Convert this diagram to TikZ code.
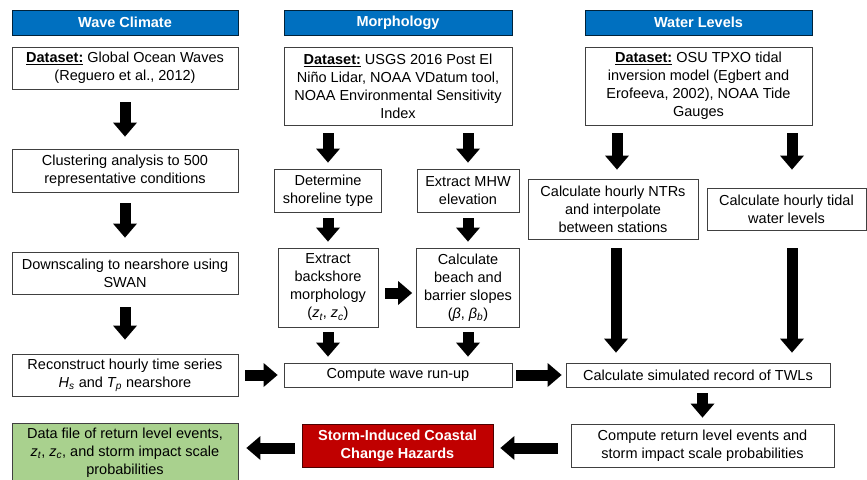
\documentclass[tikz,border=0pt]{standalone}
\usepackage{fontspec}
\setmainfont{Liberation Sans}
\usetikzlibrary{arrows.meta}
\definecolor{hdrblue}{HTML}{0070C0}
\definecolor{hazred}{HTML}{C00000}
\definecolor{outgreen}{HTML}{A9D18E}
\tikzset{>=stealth,
  box/.style={draw=black!75, line width=0.8pt, fill=white, align=center,
    inner sep=0pt, font=\fontsize{14.5}{18}\selectfont},
  hdr/.style={box, draw=black!70!hdrblue, fill=hdrblue, text=white,
    font=\fontsize{14.5}{18}\selectfont\bfseries},
  blk/.style={line width=11pt,
    -{Triangle[width=24pt,length=14pt,line width=0pt]}}}

\begin{document}
\begin{tikzpicture}[x=1pt, y=-1pt]
    \useasboundingbox (0,0) rectangle (867,479);
    % headers
    \node[hdr, minimum width=226pt, minimum height=25pt] (hW) at (125,22.5) {Wave Climate};
    \node[hdr, minimum width=228pt, minimum height=25pt] (hM) at (398,22.5) {Morphology};
    \node[hdr, minimum width=227pt, minimum height=25pt] (hL) at (698.5,22.5) {Water Levels};
    % datasets
    \node[box, minimum width=226pt, minimum height=42pt] (dW) at (125,68)
        {\underline{\textbf{Dataset:}} Global Ocean Waves\\(Reguero et al., 2012)};
    \node[box, minimum width=228pt, minimum height=78pt] (dM) at (398,86)
        {\underline{\textbf{Dataset:}} USGS 2016 Post El\\Niño Lidar, NOAA VDatum tool,\\NOAA Environmental Sensitivity\\Index};
    \node[box, minimum width=227pt, minimum height=78pt] (dL) at (698.5,86)
        {\underline{\textbf{Dataset:}} OSU TPXO tidal\\inversion model (Egbert and\\Erofeeva, 2002), NOAA Tide\\Gauges};
    % wave climate column
    \node[box, minimum width=226pt, minimum height=43pt] (clu) at (125,170.5)
        {Clustering analysis to 500\\representative conditions};
    \node[box, minimum width=226pt, minimum height=42pt] (dsc) at (125,273)
        {Downscaling to nearshore using\\SWAN};
    \node[box, minimum width=226pt, minimum height=42pt] (rec) at (125,375)
        {Reconstruct hourly time series\\\textit{H\textsubscript{s}} and \textit{T\textsubscript{p}} nearshore};
    \node[box, fill=outgreen, minimum width=226pt, minimum height=60pt] (dat) at (125,453)
        {Data file of return level events,\\\textit{z\textsubscript{t}}, \textit{z\textsubscript{c}}, and storm impact scale\\probabilities};
    % morphology column
    \node[box, minimum width=107pt, minimum height=43pt] (det) at (328,190.5)
        {Determine\\shoreline type};
    \node[box, minimum width=102pt, minimum height=43pt] (mhw) at (468,190.5)
        {Extract MHW\\elevation};
    \node[box, minimum width=100pt, minimum height=79pt] (bks) at (328,287.5)
        {Extract\\backshore\\morphology\\(\textit{z\textsubscript{t}}, \textit{z\textsubscript{c}})};
    \node[box, minimum width=103pt, minimum height=79pt] (bch) at (468,287.5)
        {Calculate\\beach and\\barrier slopes\\(\textit{β}, \textit{β\textsubscript{b}})};
    \node[box, minimum width=228pt, minimum height=24pt] (run) at (398,375)
        {Compute wave run-up};
    \node[box, draw=black!60!hazred, fill=hazred, text=white, minimum width=191pt, minimum height=43pt,
        font=\fontsize{14.5}{18}\selectfont\bfseries] (stm) at (397.5,445.5)
        {Storm-Induced Coastal\\Change Hazards};
    % water levels column
    \node[box, minimum width=170pt, minimum height=60pt] (ntr) at (613,209)
        {Calculate hourly NTRs\\and interpolate\\between stations};
    \node[box, minimum width=159pt, minimum height=42pt] (tid) at (786.5,209)
        {Calculate hourly tidal\\water levels};
    \node[box, minimum width=264pt, minimum height=24pt] (twl) at (698,375)
        {Calculate simulated record of TWLs};
    \node[box, minimum width=263pt, minimum height=43pt] (ret) at (702.5,445.5)
        {Compute return level events and\\storm impact scale probabilities};
    % arrows
    \draw[blk, shorten <=13pt, shorten >=12pt] (dW) -- (clu);
    \draw[blk, shorten <=11pt, shorten >=14pt] (clu) -- (dsc);
    \draw[blk, shorten <=13pt, shorten >=14pt] (dsc) -- (rec);
    \draw[blk, shorten <=8pt, shorten >=6pt] (dM.south -| det.north) -- (det.north);
    \draw[blk, shorten <=8pt, shorten >=6pt] (dM.south -| mhw.north) -- (mhw.north);
    \draw[blk, shorten <=6pt, shorten >=6pt] (det) -- (bks);
    \draw[blk, shorten <=6pt, shorten >=6pt] (mhw) -- (bch);
    \draw[blk, shorten <=5pt, shorten >=6pt] (bks.south) -- (bks.south |- run.north);
    \draw[blk, shorten <=5pt, shorten >=6pt] (bch.south) -- (bch.south |- run.north);
    \draw[blk, shorten <=8pt, shorten >=9pt] ([xshift=4pt]dL.south -| ntr.north) -- ([xshift=4pt]ntr.north);
    \draw[blk, shorten <=8pt, shorten >=18pt] ([xshift=5.5pt]dL.south -| tid.north) -- ([xshift=5.5pt]tid.north);
    \draw[blk, shorten <=9pt, shorten >=10pt] ([xshift=3pt]ntr.south) -- ([xshift=3pt]ntr.south |- twl.north);
    \draw[blk, shorten <=18pt, shorten >=10pt] ([xshift=5.5pt]tid.south) -- ([xshift=5.5pt]tid.south |- twl.north);
    \draw[blk, shorten <=6pt, shorten >=6pt] (twl.south -| ret.north) -- (ret.north);
    \draw[blk, shorten <=7pt, shorten >=6pt] (rec) -- (run);
    \draw[blk, shorten <=7pt, shorten >=4pt] ([yshift=-5.5pt]bks.east) -- ([yshift=-5.5pt]bks.east -| bch.west);
    \draw[blk, shorten <=4pt, shorten >=4pt] (run) -- (twl);
    \draw[blk, shorten <=13pt, shorten >=7pt] ([yshift=-2.5pt]ret.west) -- ([yshift=-2.5pt]ret.west -| stm.east);
    \draw[blk, shorten <=7pt, shorten >=8pt] ([yshift=-2.5pt]stm.west) -- ([yshift=-2.5pt]stm.west -| dat.east);
\end{tikzpicture}
\end{document}
